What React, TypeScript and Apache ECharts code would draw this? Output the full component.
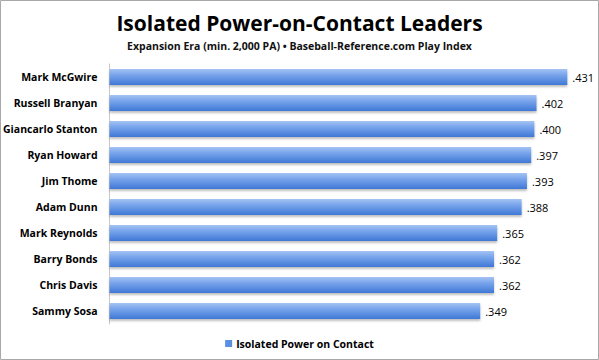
import React, { useEffect, useRef } from "react";
import * as echarts from "echarts";

const players = [
  "Mark McGwire",
  "Russell Branyan",
  "Giancarlo Stanton",
  "Ryan Howard",
  "Jim Thome",
  "Adam Dunn",
  "Mark Reynolds",
  "Barry Bonds",
  "Chris Davis",
  "Sammy Sosa",
];
const isoPowerOnContact = [0.431, 0.402, 0.4, 0.397, 0.393, 0.388, 0.365, 0.362, 0.362, 0.349];
const seriesName = "Isolated Power on Contact";
const titleText = "Isolated Power-on-Contact Leaders";
const subtitleText = "Expansion Era (min. 2,000 PA) \u2022 Baseball-Reference.com Play Index";

export default function App() {
  const ref = useRef<HTMLDivElement>(null);
  useEffect(() => {
    if (!ref.current) return;
    const chart = echarts.init(ref.current, null, { renderer: "svg" });
    const font = "'Open Sans', 'Noto Sans', sans-serif";
    chart.setOption({
      animation: false,
      backgroundColor: "#ffffff",
      textStyle: { fontFamily: font },
      title: [
        {
          text: titleText,
          left: "center",
          top: 11,
          padding: 0,
          textStyle: { fontFamily: font, fontSize: 21, lineHeight: 24, fontWeight: "bold", color: "#000" },
        },
        {
          text: subtitleText,
          left: "center",
          top: 39,
          padding: 0,
          textStyle: { fontFamily: font, fontSize: 10.5, lineHeight: 13, fontWeight: "bold", color: "#111" },
        },
      ],
      legend: {
        bottom: 6,
        left: "center",
        itemWidth: 7,
        itemHeight: 7,
        itemGap: 4,
        icon: "rect",
        textStyle: { fontFamily: font, fontSize: 10.5, fontWeight: "bold", color: "#000", padding: [0, 0, 0, -1] },
        data: [{ name: seriesName, itemStyle: { color: "#5b8fe0" } }],
      },
      grid: { left: 102, right: 11.5, top: 64, bottom: 36, containLabel: false },
      xAxis: {
        type: "value",
        min: 0,
        max: 0.45,
        show: false,
      },
      yAxis: {
        type: "category",
        inverse: true,
        data: players,
        axisLine: { show: true, lineStyle: { color: "#c8c8c8", width: 1 } },
        axisTick: { show: false },
        axisLabel: { fontFamily: font, fontSize: 10.5, fontWeight: "bold", color: "#000", margin: 12 },
      },
      series: [
        {
          name: seriesName,
          type: "bar",
          data: isoPowerOnContact,
          barWidth: 16,
          itemStyle: {
            color: new echarts.graphic.LinearGradient(0, 0, 0, 1, [
              { offset: 0, color: "#a6c3f3" },
              { offset: 0.35, color: "#7aa6ec" },
              { offset: 1, color: "#3f78d6" },
            ]),
            shadowColor: "rgba(0,0,0,0.25)",
            shadowBlur: 2,
            shadowOffsetY: 2,
          },
          label: {
            show: true,
            position: "right",
            distance: 5,
            fontFamily: font,
            fontSize: 11,
            color: "#000",
            formatter: (p: any) => p.value.toFixed(3).replace(/^0/, ""),
          },
        },
      ],
      graphic: [
        {
          type: "rect",
          shape: { x: 0.5, y: 0.5, width: 598, height: 359 },
          style: { fill: "none", stroke: "#a8a8a8", lineWidth: 1 },
          silent: true,
        },
      ],
    });
    return () => chart.dispose();
  }, []);
  return (
    <div
      ref={ref}
      style={{ position: "fixed", left: 0, top: 0, width: 599, height: 360 }}
    />
  );
}
